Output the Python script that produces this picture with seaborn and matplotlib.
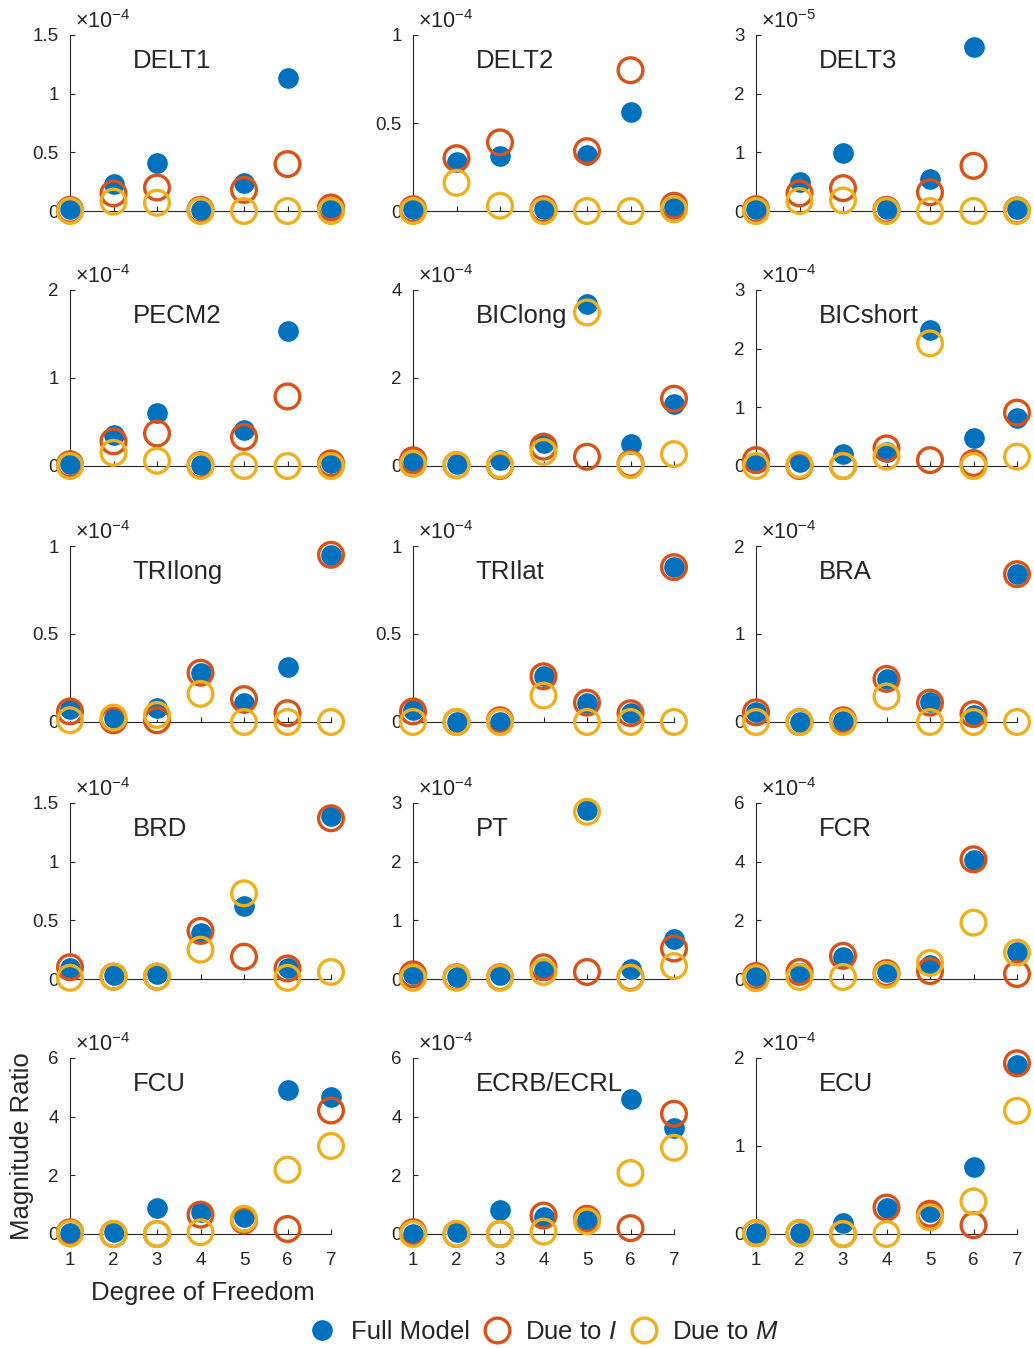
import numpy as np
import pandas as pd
import matplotlib
matplotlib.use("Agg")
import matplotlib.pyplot as plt
import matplotlib.ticker as mticker
from matplotlib.lines import Line2D
import seaborn as sns

muscles = ["DELT1", "DELT2", "DELT3", "PECM2", "BIClong", "BICshort",
           "TRIlong", "TRIlat", "BRA", "BRD", "PT", "FCR",
           "FCU", "ECRB/ECRL", "ECU"]
dof = [1, 2, 3, 4, 5, 6, 7]
exponents = [-4, -4, -5, -4, -4, -4, -4, -4, -4, -4, -4, -4, -4, -4, -4]
y_tops = [1.5, 1, 3, 2, 4, 3, 1, 1, 2, 1.5, 3, 6, 6, 6, 2]
y_steps = [0.5, 0.5, 1, 1, 2, 1, 0.5, 0.5, 1, 0.5, 1, 2, 2, 2, 1]

# values in units of 10^exponent
full_model = [
    [0.02, 0.23, 0.41, 0.01, 0.24, 1.13, 0.02],
    [0.01, 0.28, 0.31, 0.01, 0.32, 0.56, 0.02],
    [0.04, 0.50, 0.99, 0.03, 0.55, 2.79, 0.04],
    [0.02, 0.35, 0.60, 0.01, 0.41, 1.53, 0.03],
    [0.08, 0.05, 0.14, 0.53, 3.68, 0.50, 1.42],
    [0.05, 0.07, 0.21, 0.24, 2.32, 0.47, 0.81],
    [0.075, 0.02, 0.08, 0.28, 0.11, 0.31, 0.95],
    [0.07, 0.0, 0.0, 0.26, 0.11, 0.05, 0.88],
    [0.11, 0.0, 0.01, 0.49, 0.23, 0.08, 1.68],
    [0.09, 0.03, 0.04, 0.39, 0.62, 0.09, 1.39],
    [0.08, 0.04, 0.06, 0.15, 2.88, 0.17, 0.69],
    [0.10, 0.20, 0.75, 0.24, 0.48, 4.04, 0.92],
    [0.02, 0.06, 0.87, 0.75, 0.58, 4.90, 4.67],
    [0.0, 0.08, 0.81, 0.58, 0.48, 4.61, 3.61],
    [0.01, 0.01, 0.13, 0.29, 0.25, 0.76, 1.92],
]
due_to_I = [
    [0.01, 0.15, 0.20, 0.01, 0.18, 0.40, 0.03],
    [0.01, 0.30, 0.39, 0.01, 0.34, 0.80, 0.03],
    [0.03, 0.30, 0.39, 0.02, 0.32, 0.77, 0.01],
    [0.02, 0.28, 0.37, 0.01, 0.33, 0.79, 0.03],
    [0.13, 0.02, 0.0, 0.44, 0.21, 0.05, 1.53],
    [0.10, 0.0, 0.0, 0.30, 0.10, 0.05, 0.91],
    [0.06, 0.01, 0.01, 0.28, 0.13, 0.05, 0.95],
    [0.06, 0.0, 0.01, 0.26, 0.11, 0.05, 0.88],
    [0.11, 0.0, 0.02, 0.49, 0.22, 0.09, 1.68],
    [0.10, 0.02, 0.02, 0.41, 0.19, 0.09, 1.37],
    [0.08, 0.03, 0.03, 0.20, 0.12, 0.03, 0.52],
    [0.10, 0.24, 0.79, 0.20, 0.27, 4.08, 0.17],
    [0.06, 0.0, 0.0, 0.66, 0.46, 0.17, 4.21],
    [0.06, 0.0, 0.0, 0.63, 0.52, 0.20, 4.10],
    [0.01, 0.01, 0.0, 0.30, 0.23, 0.10, 1.94],
]
due_to_M = [
    [0.0, 0.08, 0.07, 0.0, 0.0, 0.0, 0.0],
    [0.0, 0.16, 0.03, 0.0, 0.0, 0.0, 0.01],
    [0.0, 0.17, 0.18, 0.0, 0.0, 0.0, 0.0],
    [0.0, 0.15, 0.06, 0.0, 0.0, 0.0, 0.0],
    [0.05, 0.02, 0.02, 0.32, 3.49, 0.02, 0.27],
    [0.0, 0.02, 0.0, 0.16, 2.09, 0.0, 0.16],
    [0.01, 0.025, 0.04, 0.16, 0.0, 0.0, 0.0],
    [0.0, 0.0, 0.0, 0.15, 0.0, 0.0, 0.0],
    [0.0, 0.0, 0.0, 0.29, 0.0, 0.0, 0.0],
    [0.01, 0.02, 0.02, 0.25, 0.73, 0.01, 0.06],
    [0.02, 0.02, 0.02, 0.12, 2.85, 0.02, 0.22],
    [0.03, 0.07, 0.07, 0.14, 0.55, 1.92, 0.90],
    [0.02, 0.0, 0.0, 0.06, 0.52, 2.19, 3.00],
    [0.0, 0.0, 0.0, 0.08, 0.43, 2.08, 2.94],
    [0.01, 0.01, 0.0, 0.0, 0.19, 0.37, 1.40],
]

BLUE = "#0072BD"
RED = "#D95319"
YELLOW = "#EDB120"
INK = "#262626"

sns.set_style("white")
plt.rcParams["font.family"] = ["Liberation Sans", "DejaVu Sans"]
plt.rcParams["mathtext.fontset"] = "custom"
plt.rcParams["mathtext.rm"] = "Liberation Sans"
plt.rcParams["mathtext.it"] = "Liberation Sans:italic"

W, H = 1034, 1348
fig = plt.figure(figsize=(W / 100, H / 100), dpi=100)

col_left = [70, 413, 756]
row_top = [35, 290, 546, 803, 1058]
ax_w, ax_h = 261, 176

S_FULL = 15.5 ** 2
S_RING = 17.8 ** 2

for i, name in enumerate(muscles):
    r, c = divmod(i, 3)
    ax = fig.add_axes([col_left[c] / W, 1 - (row_top[r] + ax_h) / H, ax_w / W, ax_h / H])
    scale = 10.0 ** exponents[i]
    df = pd.DataFrame({
        "dof": dof,
        "full": np.array(full_model[i]) * scale,
        "due_I": np.array(due_to_I[i]) * scale,
        "due_M": np.array(due_to_M[i]) * scale,
    })

    sns.scatterplot(data=df, x="dof", y="full", ax=ax, color=BLUE, s=S_FULL,
                    edgecolor="white", linewidth=0.6, clip_on=False, zorder=3, legend=False)
    sns.scatterplot(data=df, x="dof", y="due_I", ax=ax, color=RED, facecolor="none",
                    edgecolor=RED, s=S_RING, linewidth=2.4, clip_on=False, zorder=4, legend=False)
    sns.scatterplot(data=df, x="dof", y="due_M", ax=ax, color=YELLOW, facecolor="none",
                    edgecolor=YELLOW, s=S_RING, linewidth=2.4, clip_on=False, zorder=5, legend=False)

    ax.set_xlim(1, 7)
    ax.set_ylim(0, y_tops[i] * scale)
    ax.set_xticks(dof)
    ax.set_yticks(np.arange(0, y_tops[i] + y_steps[i] / 2, y_steps[i]) * scale)
    ax.yaxis.set_major_formatter(mticker.FuncFormatter(lambda v, p, s=scale: f"{v / s:g}"))
    ax.set_xlabel("")
    ax.set_ylabel("")

    for side in ["top", "right"]:
        ax.spines[side].set_visible(False)
    for side in ["left", "bottom"]:
        ax.spines[side].set_color(INK)
        ax.spines[side].set_linewidth(0.8)
    ax.tick_params(axis="both", direction="in", length=3.5, width=0.8, colors=INK,
                   labelsize=13.5, bottom=True, left=True)
    ax.tick_params(axis="y", pad=8)
    ax.tick_params(axis="x", pad=13)
    if r < 4:
        ax.tick_params(axis="x", labelbottom=False)

    ax.text(0.24, 0.855, name, transform=ax.transAxes, fontsize=18.5, color=INK,
            ha="left", va="center", zorder=2)
    ax.text(0.02, 1.04, r"$\times\mathregular{10^{%d}}$" % exponents[i], transform=ax.transAxes,
            fontsize=15.5, color=INK, ha="left", va="baseline")

fig.text(22 / W, 1 - 1146 / H, "Magnitude Ratio", rotation=90, ha="center", va="center",
         fontsize=18.5, color=INK)
fig.text(203 / W, 1 - 1293 / H, "Degree of Freedom", ha="center", va="center",
         fontsize=18.5, color=INK)

handles = [
    Line2D([], [], marker="o", linestyle="none", markersize=15.5, markerfacecolor=BLUE,
           markeredgecolor="white", markeredgewidth=0.6),
    Line2D([], [], marker="o", linestyle="none", markersize=17.8, markerfacecolor="none",
           markeredgecolor=RED, markeredgewidth=2.4),
    Line2D([], [], marker="o", linestyle="none", markersize=17.8, markerfacecolor="none",
           markeredgecolor=YELLOW, markeredgewidth=2.4),
]
labels = ["Full Model", r"Due to $\mathit{I}$", r"Due to $\mathit{M}$"]
leg = fig.legend(handles, labels, loc="center", bbox_to_anchor=(544 / W, 16 / H), ncol=3,
                 frameon=False, fontsize=18.5, handlelength=1.0, handletextpad=0.6,
                 columnspacing=0.55, borderaxespad=0)
for t in leg.get_texts():
    t.set_color(INK)

fig.savefig("out.png", dpi=100)
